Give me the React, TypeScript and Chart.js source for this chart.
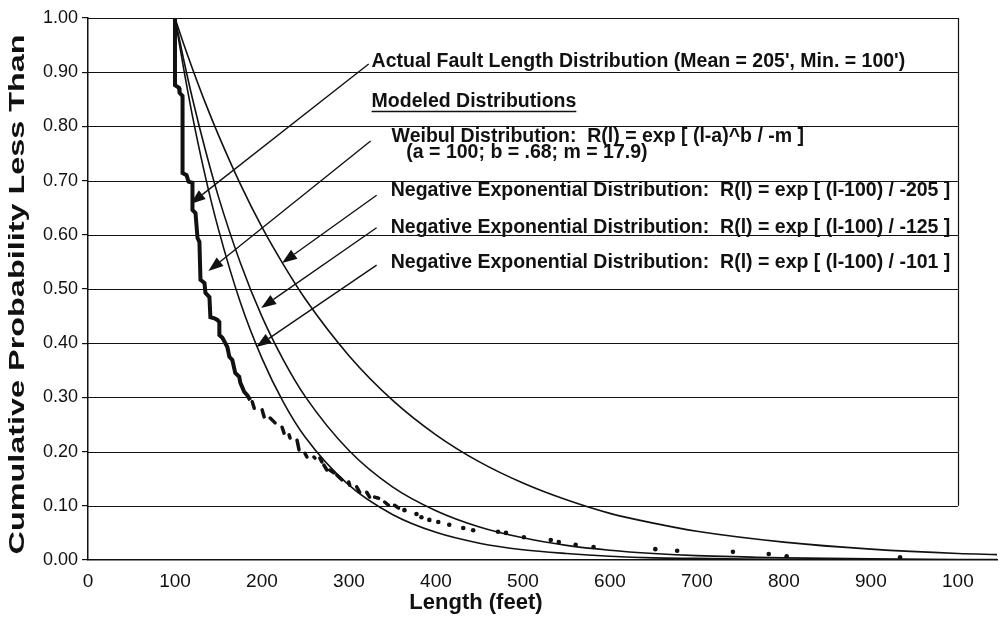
import React, { useEffect, useRef } from "react";
import { Chart, registerables } from "chart.js";

Chart.register(...registerables);

// ---------- data ----------
const xTickValues = [0, 100, 200, 300, 400, 500, 600, 700, 800, 900, 1000];
const xTickLabels = ["0", "100", "200", "300", "400", "500", "600", "700", "800", "900", "100"];
const yTickValues = [0, 0.1, 0.2, 0.3, 0.4, 0.5, 0.6, 0.7, 0.8, 0.9, 1.0];
const yTickLabels = ["0.00", "0.10", "0.20", "0.30", "0.40", "0.50", "0.60", "0.70", "0.80", "0.90", "1.00"];

// modeled curves
const curveLength = [100, 110, 120, 135, 150, 175, 200, 225, 250, 300, 350, 400, 450, 500, 550, 600, 650, 700, 800, 900, 1000, 1045];
const exp205Prob = [1.0, 0.952, 0.907, 0.843, 0.784, 0.694, 0.614, 0.544, 0.481, 0.377, 0.295, 0.231, 0.181, 0.142, 0.111, 0.086, 0.068, 0.053, 0.033, 0.02, 0.012, 0.01];
const exp125Prob = [1.0, 0.923, 0.852, 0.756, 0.67, 0.549, 0.449, 0.368, 0.301, 0.202, 0.135, 0.091, 0.061, 0.041, 0.027, 0.018, 0.012, 0.008, 0.004, 0.002, 0.001, 0.001];
const exp101Prob = [1.0, 0.906, 0.82, 0.707, 0.61, 0.476, 0.372, 0.29, 0.226, 0.138, 0.084, 0.051, 0.031, 0.019, 0.012, 0.007, 0.004, 0.003, 0.001, 0.0, 0.0, 0.0];

// actual fault lengths: dense stepped part
const stepLength = [100, 100, 104.7, 105.3, 108.7, 108.7, 113.3, 115.6, 120.1, 120.1, 123.6, 125.9, 128.1, 129.3, 133.9, 135.0, 139.6, 140.7, 145.3, 148.7, 151.0, 151.0, 154.5, 157.9, 160.2, 162.5, 165.9, 169.3, 173.9, 175.1, 177.3, 179.6, 183.1, 186.5];
const stepProb = [1.0, 0.876, 0.871, 0.862, 0.856, 0.714, 0.71, 0.698, 0.696, 0.646, 0.64, 0.594, 0.587, 0.517, 0.511, 0.493, 0.485, 0.448, 0.446, 0.443, 0.439, 0.415, 0.41, 0.4, 0.393, 0.375, 0.369, 0.345, 0.338, 0.327, 0.319, 0.31, 0.304, 0.295];
// short vertical runs (start/end pairs)
const dashLength = [188.8, 191.1, 200.2, 202.5, 209.4, 215.1, 223.1, 225.4, 231.1, 232.3, 240.3, 242.6, 249.4, 251.7, 259.7, 260.9, 266.6, 268.9, 271.2, 274.6, 278.0, 282.6, 286.0, 291.8, 299.8, 300.9, 308.9, 312.4, 320.4, 323.8, 329.5, 334.1, 341.0, 345.5, 352.4, 357.0];
const dashProb = [0.292, 0.28, 0.277, 0.264, 0.262, 0.253, 0.245, 0.234, 0.231, 0.225, 0.221, 0.203, 0.197, 0.19, 0.19, 0.188, 0.188, 0.181, 0.175, 0.166, 0.166, 0.161, 0.157, 0.148, 0.144, 0.138, 0.135, 0.125, 0.125, 0.116, 0.116, 0.114, 0.107, 0.101, 0.101, 0.096];
// isolated points
const dotLength = [363.8, 377.6, 383.3, 392.4, 402.7, 415.3, 431.4, 442.8, 471.4, 480.5, 501.1, 532.0, 541.2, 560.6, 581.2, 652.2, 677.3, 741.4, 782.6, 803.2, 933.6];
const dotProb = [0.092, 0.085, 0.079, 0.074, 0.07, 0.065, 0.059, 0.055, 0.052, 0.05, 0.042, 0.037, 0.033, 0.028, 0.024, 0.02, 0.017, 0.015, 0.011, 0.007, 0.005];

// ---------- annotations (data coordinates) ----------
const FONT = '"Liberation Sans", Arial, Helvetica, sans-serif';
const notes = [
  { text: "Actual Fault Length Distribution (Mean = 205', Min. = 100')", x: 326, y: 0.919, underline: false },
  { text: "Modeled Distributions", x: 326, y: 0.845, underline: true },
  { text: "Weibul Distribution:  R(l) = exp [ (l-a)^b / -m ]", x: 349, y: 0.781, underline: false },
  { text: "(a = 100; b = .68; m = 17.9)", x: 366, y: 0.751, underline: false },
  { text: "Negative Exponential Distribution:  R(l) = exp [ (l-100) / -205 ]", x: 348, y: 0.681, underline: false },
  { text: "Negative Exponential Distribution:  R(l) = exp [ (l-100) / -125 ]", x: 348, y: 0.613, underline: false },
  { text: "Negative Exponential Distribution:  R(l) = exp [ (l-100) / -101 ]", x: 348, y: 0.548, underline: false },
];
const arrows = [
  { x1: 322.7, y1: 0.915, x2: 117.8, y2: 0.657 },
  { x1: 324.9, y1: 0.773, x2: 138.4, y2: 0.533 },
  { x1: 331.8, y1: 0.673, x2: 223.1, y2: 0.548 },
  { x1: 331.8, y1: 0.613, x2: 199.1, y2: 0.465 },
  { x1: 331.8, y1: 0.544, x2: 193.4, y2: 0.393 },
];
const GRID_END = 1000;

const pts = (xs: number[], ys: number[]) => xs.map((x, i) => ({ x, y: ys[i] }));
const dashPts = () => {
  const out: any[] = [];
  for (let i = 0; i < dashLength.length; i += 2) {
    out.push({ x: dashLength[i], y: dashProb[i] });
    out.push({ x: dashLength[i + 1], y: dashProb[i + 1] });
    out.push({ x: dashLength[i + 1], y: null });
  }
  return out;
};

const overlay = {
  id: "overlay",
  beforeDatasetsDraw(chart: any) {
    const { ctx, scales } = chart;
    const x = scales.x, y = scales.y;
    ctx.save();
    ctx.strokeStyle = "#111";
    ctx.lineWidth = 1.2;
    const x0 = x.getPixelForValue(0);
    const x1 = x.getPixelForValue(GRID_END);
    for (const v of yTickValues) {
      if (v === 0) continue;
      const py = Math.round(y.getPixelForValue(v)) + 0.5;
      ctx.beginPath();
      ctx.moveTo(x0, py);
      ctx.lineTo(x1, py);
      ctx.stroke();
    }
    ctx.beginPath();
    ctx.moveTo(Math.round(x1) + 0.5, y.getPixelForValue(1));
    ctx.lineTo(Math.round(x1) + 0.5, y.getPixelForValue(0.1));
    ctx.stroke();
    ctx.restore();
  },
  afterDatasetsDraw(chart: any) {
    const { ctx, scales, chartArea } = chart;
    const x = scales.x, y = scales.y;
    ctx.save();
    ctx.fillStyle = "#111";
    ctx.strokeStyle = "#111";
    // arrows
    for (const a of arrows) {
      const px1 = x.getPixelForValue(a.x1), py1 = y.getPixelForValue(a.y1);
      const px2 = x.getPixelForValue(a.x2), py2 = y.getPixelForValue(a.y2);
      const ang = Math.atan2(py2 - py1, px2 - px1);
      const L = 15, W = 5.5;
      const bx = px2 - L * Math.cos(ang), by = py2 - L * Math.sin(ang);
      ctx.lineWidth = 1.4;
      ctx.beginPath();
      ctx.moveTo(px1, py1);
      ctx.lineTo(bx, by);
      ctx.stroke();
      ctx.beginPath();
      ctx.moveTo(px2, py2);
      ctx.lineTo(bx + W * Math.sin(ang), by - W * Math.cos(ang));
      ctx.lineTo(bx - W * Math.sin(ang), by + W * Math.cos(ang));
      ctx.closePath();
      ctx.fill();
    }
    // notes
    ctx.font = `bold 19.5px ${FONT}`;
    ctx.textBaseline = "middle";
    ctx.textAlign = "left";
    for (const n of notes) {
      const px = x.getPixelForValue(n.x), py = y.getPixelForValue(n.y);
      ctx.fillText(n.text, px, py);
      if (n.underline) {
        const w = ctx.measureText(n.text).width;
        ctx.lineWidth = 1.5;
        ctx.beginPath();
        ctx.moveTo(px, py + 9.5);
        ctx.lineTo(px + w, py + 9.5);
        ctx.stroke();
      }
    }
    // axis titles
    ctx.font = `bold 22px ${FONT}`;
    ctx.textAlign = "center";
    ctx.fillText("Length (feet)", x.getPixelForValue(446), chartArea.bottom + 43);
    const yt = "Cumulative Probability Less Than";
    const natural = ctx.measureText(yt).width;
    const target = 520;
    ctx.save();
    ctx.translate(18, y.getPixelForValue(0.49));
    ctx.rotate(-Math.PI / 2);
    ctx.scale(target / natural, 1);
    ctx.fillText(yt, 0, 0);
    ctx.restore();
    ctx.restore();
  },
};

export default function App() {
  const ref = useRef<HTMLCanvasElement | null>(null);
  useEffect(() => {
    document.body.style.margin = "0";
    document.body.style.overflow = "hidden";
    const canvas = ref.current!;
    const black = "#111";
    const chart = new Chart(canvas, {
      type: "line",
      data: {
        datasets: [
          { label: "exp205", data: pts(curveLength, exp205Prob), borderColor: black, borderWidth: 1.6, pointRadius: 0, cubicInterpolationMode: "monotone", fill: false },
          { label: "exp125", data: pts(curveLength, exp125Prob), borderColor: black, borderWidth: 1.6, pointRadius: 0, cubicInterpolationMode: "monotone", fill: false },
          { label: "exp101", data: pts(curveLength, exp101Prob), borderColor: black, borderWidth: 1.6, pointRadius: 0, cubicInterpolationMode: "monotone", fill: false },
          { label: "actual", data: pts(stepLength, stepProb), borderColor: black, borderWidth: 4, pointRadius: 0, tension: 0, fill: false },
          { label: "actualRuns", data: dashPts(), borderColor: black, borderWidth: 3.5, borderCapStyle: "round", pointRadius: 0, tension: 0, spanGaps: false, fill: false },
          { label: "actualPoints", data: pts(dotLength, dotProb), showLine: false, pointRadius: 2.3, pointBackgroundColor: black, pointBorderWidth: 0, borderColor: black },
        ] as any,
      },
      options: {
        responsive: false,
        animation: false,
        events: [],
        layout: { padding: { top: 18, right: 0, left: 0, bottom: 0 } },
        plugins: { legend: { display: false }, tooltip: { enabled: false } },
        scales: {
          x: {
            type: "linear",
            min: 0,
            max: 1045,
            afterBuildTicks: (s: any) => { s.ticks = xTickValues.map((v) => ({ value: v })); },
            afterFit: (s: any) => { s.height = 61; },
            ticks: {
              callback: (_v: any, i: number) => xTickLabels[i],
              font: { family: FONT, size: 19 },
              color: black,
              maxRotation: 0,
              autoSkip: false,
              padding: 2,
            },
            grid: { display: false },
            border: { display: true, color: black, width: 1.5 },
          },
          y: {
            type: "linear",
            min: 0,
            max: 1,
            afterBuildTicks: (s: any) => { s.ticks = yTickValues.map((v) => ({ value: v })); },
            afterFit: (s: any) => { s.width = 88; },
            ticks: {
              callback: (_v: any, i: number) => yTickLabels[i],
              font: { family: FONT, size: 18 },
              color: black,
              padding: 4,
            },
            grid: { drawOnChartArea: false, tickLength: 6, color: black, lineWidth: 1.2 },
            border: { display: true, color: black, width: 1.5 },
          },
        },
      } as any,
      plugins: [overlay],
    });
    return () => chart.destroy();
  }, []);
  return (
    <div style={{ width: 1001, height: 621, background: "#fff" }}>
      <canvas ref={ref} width={1001} height={621} style={{ display: "block" }} />
    </div>
  );
}
